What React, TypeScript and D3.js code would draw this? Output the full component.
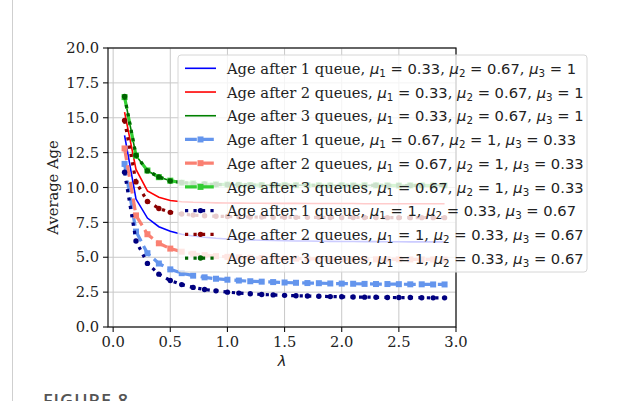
import React from 'react';
import * as d3 from 'd3';

const lambdas = [0.1, 0.2, 0.3, 0.4, 0.5, 0.6, 0.7, 0.8, 0.9, 1.0, 1.1, 1.2, 1.3, 1.4, 1.5, 1.6, 1.7, 1.8, 1.9, 2.0, 2.1, 2.2, 2.3, 2.4, 2.5, 2.6, 2.7, 2.8, 2.9];

// mu = (0.33, 0.67, 1)
const ageA1 = [13.74, 9.17, 7.81, 7.19, 6.86, 6.65, 6.52, 6.43, 6.36, 6.31, 6.27, 6.24, 6.22, 6.2, 6.18, 6.17, 6.16, 6.15, 6.14, 6.13, 6.13, 6.12, 6.12, 6.11, 6.11, 6.1, 6.1, 6.1, 6.1];
const ageA2 = [15.4, 11.3, 9.75, 9.3, 9.07, 8.98, 8.94, 8.92, 8.9, 8.89, 8.88, 8.87, 8.87, 8.86, 8.86, 8.86, 8.85, 8.85, 8.85, 8.85, 8.85, 8.84, 8.84, 8.84, 8.84, 8.84, 8.84, 8.83, 8.83];
const ageA3 = [16.5, 12.3, 11.2, 10.75, 10.48, 10.35, 10.28, 10.24, 10.22, 10.2, 10.19, 10.18, 10.18, 10.17, 10.17, 10.17, 10.16, 10.16, 10.16, 10.16, 10.16, 10.15, 10.15, 10.15, 10.15, 10.15, 10.15, 10.15, 10.15];
// mu = (0.67, 1, 0.33)
const ageB1 = [11.69, 6.84, 5.29, 4.55, 4.13, 3.86, 3.68, 3.56, 3.46, 3.39, 3.33, 3.28, 3.25, 3.22, 3.19, 3.17, 3.15, 3.14, 3.12, 3.11, 3.1, 3.09, 3.08, 3.08, 3.07, 3.06, 3.06, 3.05, 3.05];
const ageB2 = [12.8, 8.0, 6.65, 6.0, 5.62, 5.4, 5.25, 5.15, 5.08, 5.03, 4.99, 4.96, 4.94, 4.92, 4.91, 4.9, 4.89, 4.88, 4.87, 4.87, 4.86, 4.86, 4.85, 4.85, 4.85, 4.84, 4.84, 4.84, 4.83];
const ageB3 = [16.48, 12.28, 11.22, 10.74, 10.49, 10.34, 10.29, 10.23, 10.22, 10.21, 10.19, 10.18, 10.17, 10.18, 10.17, 10.16, 10.17, 10.16, 10.15, 10.16, 10.15, 10.16, 10.15, 10.15, 10.14, 10.15, 10.15, 10.14, 10.15];
// mu = (1, 0.33, 0.67)
const ageC1 = [11.09, 6.17, 4.56, 3.79, 3.33, 3.04, 2.84, 2.69, 2.59, 2.5, 2.43, 2.38, 2.33, 2.3, 2.27, 2.24, 2.22, 2.2, 2.18, 2.17, 2.15, 2.14, 2.13, 2.12, 2.11, 2.11, 2.1, 2.09, 2.09];
const ageC2 = [14.8, 10.4, 9.0, 8.5, 8.22, 8.1, 8.02, 7.97, 7.94, 7.92, 7.9, 7.89, 7.88, 7.87, 7.87, 7.86, 7.86, 7.86, 7.85, 7.85, 7.85, 7.85, 7.85, 7.84, 7.84, 7.84, 7.84, 7.84, 7.84];
const ageC3 = [16.52, 12.32, 11.19, 10.76, 10.47, 10.36, 10.27, 10.25, 10.21, 10.2, 10.2, 10.18, 10.18, 10.16, 10.17, 10.17, 10.16, 10.15, 10.16, 10.16, 10.15, 10.15, 10.16, 10.15, 10.15, 10.14, 10.15, 10.15, 10.14];

const xTicks = [0, 0.5, 1.0, 1.5, 2.0, 2.5, 3.0];
const yTicks = [0, 2.5, 5, 7.5, 10, 12.5, 15, 17.5, 20];

const legendPrefixes = [
  'Age after 1 queue, ', 'Age after 2 queues, ', 'Age after 3 queues, ',
  'Age after 1 queue, ', 'Age after 2 queues, ', 'Age after 3 queues, ',
  'Age after 1 queue, ', 'Age after 2 queues, ', 'Age after 3 queues, ',
];
const legendMus = [
  ['0.33', '0.67', '1'], ['0.33', '0.67', '1'], ['0.33', '0.67', '1'],
  ['0.67', '1', '0.33'], ['0.67', '1', '0.33'], ['0.67', '1', '0.33'],
  ['1', '0.33', '0.67'], ['1', '0.33', '0.67'], ['1', '0.33', '0.67'],
];

type Style = { color: string; kind: 'solid' | 'dashed' | 'dotted' };
const seriesData = [ageA1, ageA2, ageA3, ageB1, ageB2, ageB3, ageC1, ageC2, ageC3];
const seriesStyles: Style[] = [
  { color: '#0000ff', kind: 'solid' },
  { color: '#ff0000', kind: 'solid' },
  { color: '#008000', kind: 'solid' },
  { color: '#6495ed', kind: 'dashed' },
  { color: '#fa8072', kind: 'dashed' },
  { color: '#32cd32', kind: 'dashed' },
  { color: '#000080', kind: 'dotted' },
  { color: '#8b0000', kind: 'dotted' },
  { color: '#006400', kind: 'dotted' },
];

const W = 621, H = 401;
const M = { left: 108, right: 456, top: 48, bottom: 327 };
const FS = 14.7;
const LW = 3.2;

function strokeProps(kind: Style['kind']) {
  if (kind === 'solid') return { strokeWidth: 1.6 };
  if (kind === 'dashed') return { strokeWidth: LW, strokeDasharray: `${3.7 * LW},${1.6 * LW}` };
  return { strokeWidth: LW, strokeDasharray: `${LW},${1.65 * LW}` };
}

function Marker({ kind, color, x, y }: { kind: Style['kind']; color: string; x: number; y: number }) {
  if (kind === 'dashed') return <rect x={x - 3} y={y - 3} width={6} height={6} fill={color} />;
  if (kind === 'dotted') return <circle cx={x} cy={y} r={2.7} fill={color} />;
  return null;
}

export default function App() {
  const x = d3.scaleLinear().domain([-0.045, 3.0]).range([M.left, M.right]);
  const y = d3.scaleLinear().domain([0, 20]).range([M.bottom, M.top]);
  const line = d3.line<number>().x((_, i) => x(lambdas[i])).y((d) => y(d));

  const legX = 178, legY = 55, legW = 409, legH = 217;
  const row0 = 68.3, rowStep = 23.72;

  return (
    <svg width={W} height={H} style={{ position: 'absolute', left: 0, top: 0, background: '#fff' }}>
      <rect width={W} height={H} fill="#fff" />
      <line x1={12.5} x2={12.5} y1={0} y2={H} stroke="#cfcfcf" strokeWidth={1} />

      {/* grid */}
      {xTicks.map((t) => (
        <line key={'gx' + t} x1={x(t)} x2={x(t)} y1={M.top} y2={M.bottom} stroke="#c8c8c8" strokeWidth={1} />
      ))}
      {yTicks.map((t) => (
        <line key={'gy' + t} x1={M.left} x2={M.right} y1={y(t)} y2={y(t)} stroke="#c8c8c8" strokeWidth={1} />
      ))}

      {/* series */}
      {seriesData.map((d, si) => {
        const st = seriesStyles[si];
        return (
          <g key={'s' + si}>
            <path d={line(d) || ''} fill="none" stroke={st.color} {...strokeProps(st.kind)} />
            {d.map((v, i) => (
              <Marker key={i} kind={st.kind} color={st.color} x={x(lambdas[i])} y={y(v)} />
            ))}
          </g>
        );
      })}

      {/* spines */}
      <rect x={M.left} y={M.top} width={M.right - M.left} height={M.bottom - M.top} fill="none" stroke="#111" strokeWidth={1.2} />

      {/* ticks */}
      {xTicks.map((t) => (
        <g key={'tx' + t}>
          <line x1={x(t)} x2={x(t)} y1={M.bottom} y2={M.bottom + 5} stroke="#111" strokeWidth={1.1} />
          <text x={x(t)} y={M.bottom + 20} textAnchor="middle" fontFamily="DejaVu Serif" fontSize={FS} fill="#222">
            {t.toFixed(1)}
          </text>
        </g>
      ))}
      {yTicks.map((t) => (
        <g key={'ty' + t}>
          <line x1={M.left - 5} x2={M.left} y1={y(t)} y2={y(t)} stroke="#111" strokeWidth={1.1} />
          <text x={M.left - 9} y={y(t) + 5.2} textAnchor="end" fontFamily="DejaVu Serif" fontSize={FS} fill="#222">
            {t.toFixed(1)}
          </text>
        </g>
      ))}

      {/* axis labels */}
      <text x={(M.left + M.right) / 2} y={366} textAnchor="middle" fontFamily="DejaVu Sans" fontStyle="italic" fontSize={FS} fill="#222">
        λ
      </text>
      <text transform={`translate(58, ${(M.top + M.bottom) / 2}) rotate(-90)`} textAnchor="middle" fontFamily="DejaVu Serif" fontSize={FS} fill="#222">
        Average Age
      </text>

      {/* legend */}
      <rect x={legX} y={legY} width={legW} height={legH} rx={3} fill="#fff" fillOpacity={0.8} stroke="#d6d6d6" strokeWidth={1} />
      {legendPrefixes.map((p, i) => {
        const st = seriesStyles[i];
        const cy = row0 + i * rowStep;
        const hx1 = 185, hx2 = 216;
        return (
          <g key={'l' + i}>
            <line x1={hx1} x2={hx2} y1={cy} y2={cy} stroke={st.color} {...strokeProps(st.kind)} />
            <Marker kind={st.kind} color={st.color} x={(hx1 + hx2) / 2} y={cy} />
            <text x={227} y={cy + 5.7} fontFamily="DejaVu Serif" fontSize={FS} fill="#222" style={{ whiteSpace: 'pre' }}>
              <tspan>{p}</tspan>
              {legendMus[i].map((m, k) => (
                <React.Fragment key={k}>
                  <tspan fontFamily="DejaVu Sans" fontStyle="italic">μ</tspan>
                  <tspan fontFamily="DejaVu Sans" fontSize={FS * 0.7} dy={3}>{String(k + 1)}</tspan>
                  <tspan fontFamily="DejaVu Sans" dy={-3}>{' = ' + m}</tspan>
                  {k < 2 ? <tspan>{', '}</tspan> : null}
                </React.Fragment>
              ))}
            </text>
          </g>
        );
      })}

      <text x={43} y={407} fontFamily="Open Sans" fontWeight={600} fontSize={18} letterSpacing={1} fill="#555">
        FIGURE 8
      </text>
    </svg>
  );
}
